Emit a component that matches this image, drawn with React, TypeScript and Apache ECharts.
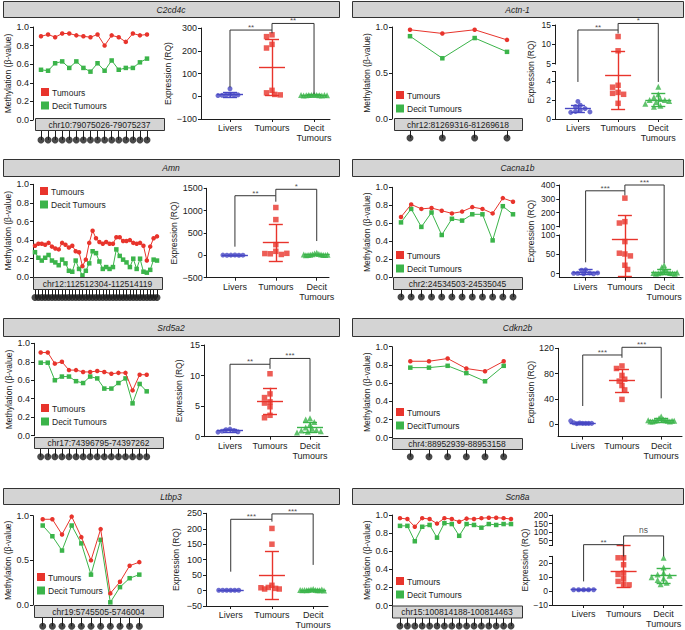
import React, { useEffect, useRef } from "react";
import * as echarts from "echarts";

const FONT = "'Liberation Sans', Arial, Helvetica, sans-serif";
const RED = "#e8342c";
const GREEN = "#3bb44a";
const BLUE = "#4848c4";
const INK = "#1c1c1c";
const BOXFILL = "#d4d4d4";

const groupLabels = ["Livers", "Tumours", "Decit\nTumours"];

// ---------- C2cd4c
const c2cd4cMethTumours = [0.9, 0.92, 0.89, 0.93, 0.93, 0.91, 0.9, 0.89, 0.92, 0.8, 0.91, 0.89, 0.84, 0.93, 0.91, 0.92];
const c2cd4cMethDecit = [0.54, 0.53, 0.61, 0.63, 0.56, 0.63, 0.56, 0.52, 0.61, 0.53, 0.64, 0.54, 0.56, 0.56, 0.62, 0.66];
const c2cd4cLivers = [33, 8, 5, 5, 4, 6, 3];
const c2cd4cTumours = [270, 262, 228, 212, 26, 15, 8, 6];
const c2cd4cDecit = [8, 6, 5, 5, 4, 4, 3, 3, 5, 6, 4];
const c2cd4cMeans = [7, 127, 5];
const c2cd4cSds = [10, 122, 2];
const c2cd4cTicks = [-100, 0, 100, 200, 300];
const c2cd4cBrackets = [[0, 1, 291, 39, 277, "**"], [1, 2, 320, 291, 10, "**"]];

// ---------- Actn-1
const actn1MethTumours = [0.97, 0.93, 0.97, 0.86];
const actn1MethDecit = [0.9, 0.66, 0.88, 0.73];
const actn1Livers = [1.85, 1.45, 1.3, 1.1, 0.95, 0.8, 0.7, 0.75];
const actn1Tumours = [12, 8.3, 3.55, 3.35, 2.8, 2.7, 2.6, 1.65];
const actn1Decit = [3.4, 2.6, 2.3, 2.1, 2.0, 2.0, 1.9, 1.8, 1.6, 1.4, 1.3];
const actn1Means = [1.1, 4.6, 2.0];
const actn1Sds = [0.4, 3.6, 0.7];
const actn1LowerTicks = [0, 2, 4];
const actn1UpperTicks = [5, 10, 15];
const actn1Brackets = [[0, 1, 13.7, 3.9, 12.8, "**"], [1, 2, 15.4, 13.7, 3.9, "*"]];

// ---------- Amn
const amnMethTumours = [0.34, 0.36, 0.36, 0.35, 0.37, 0.33, 0.31, 0.3, 0.37, 0.35, 0.32, 0.34, 0.28, 0.27, 0.12, 0.19, 0.37, 0.5, 0.42, 0.38, 0.36, 0.38, 0.36, 0.36, 0.43, 0.43, 0.39, 0.39, 0.4, 0.37, 0.36, 0.37, 0.34, 0.18, 0.33, 0.42, 0.44];
const amnMethDecit = [0.27, 0.21, 0.18, 0.21, 0.24, 0.18, 0.16, 0.13, 0.19, 0.15, 0.07, 0.06, 0.18, 0.09, 0.02, 0.07, 0.15, 0.28, 0.26, 0.17, 0.09, 0.11, 0.09, 0.11, 0.3, 0.23, 0.19, 0.16, 0.11, 0.2, 0.09, 0.2, 0.06, 0.05, 0.08, 0.19, 0.18];
const amnLivers = [8, 5, 3, 2, 4, 6];
const amnTumours = [1070, 800, 240, 90, 35, 20, 40, 45];
const amnDecit = [60, 40, 30, 25, 20, 15, 10, 10, 8, 5, 12, 18];
const amnMeans = [5, 283, 20];
const amnSds = [3, 410, 15];
const amnTicks = [-500, 0, 500, 1000, 1500];
const amnBrackets = [[0, 1, 1334, 194, 1200, "**"], [1, 2, 1478, 1334, 320, "*"]];

// ---------- Cacna1b
const cacna1bMethTumours = [0.67, 0.81, 0.76, 0.77, 0.74, 0.71, 0.73, 0.78, 0.76, 0.71, 0.88, 0.84];
const cacna1bMethDecit = [0.61, 0.76, 0.56, 0.72, 0.47, 0.65, 0.63, 0.7, 0.7, 0.41, 0.79, 0.7];
const cacna1bLivers = [10, 9, 2, 1, 0, 0, 1, 2];
const cacna1bTumours = [305, 135, 125, 83, 51, 53, 46, 22, 11];
const cacna1bDecit = [22, 17, 10, 6, 4, 3, 2, 1, 1, 0, 0, 2, 3];
const cacna1bMeans = [5, 88, 5];
const cacna1bSds = [6, 95, 7];
const cacna1bLowerTicks = [0, 50, 100];
const cacna1bUpperTicks = [100, 200, 300, 400];
const cacna1bBrackets = [[0, 1, 358, 29.5, 325, "***"], [1, 2, 400, 358, 27, "***"]];

// ---------- Srd5a2
const srd5a2MethTumours = [0.9, 0.9, 0.78, 0.8, 0.71, 0.71, 0.69, 0.69, 0.7, 0.69, 0.67, 0.68, 0.68, 0.49, 0.66, 0.66];
const srd5a2MethDecit = [0.79, 0.79, 0.6, 0.64, 0.64, 0.59, 0.57, 0.64, 0.62, 0.51, 0.51, 0.57, 0.62, 0.35, 0.56, 0.48];
const srd5a2Livers = [1.25, 1.15, 1.0, 0.9, 0.8, 0.75];
const srd5a2Tumours = [10.3, 7.0, 6.4, 5.7, 5.5, 4.9, 3.5, 3.1];
const srd5a2Decit = [3.0, 2.8, 2.4, 2.0, 1.5, 1.3, 1.1, 1.0, 0.9, 0.8, 0.7];
const srd5a2Means = [1.0, 5.8, 1.6];
const srd5a2Sds = [0.2, 2.2, 0.8];
const srd5a2Ticks = [0, 5, 10, 15];
const srd5a2Brackets = [[0, 1, 11.85, 1.9, 11.1, "**"], [1, 2, 12.8, 11.85, 4.1, "***"]];

// ---------- Cdkn2b
const cdkn2bMethTumours = [0.84, 0.84, 0.87, 0.76, 0.73, 0.84];
const cdkn2bMethDecit = [0.77, 0.77, 0.79, 0.71, 0.62, 0.79];
const cdkn2bLivers = [1, 1.5, 1, 0.5, 1, 2, 1, 5];
const cdkn2bTumours = [92, 88, 77, 71, 68, 61, 54, 39];
const cdkn2bDecit = [12, 9, 7, 6, 6, 5, 5, 4, 4, 4, 5, 6, 5];
const cdkn2bMeans = [1.5, 69, 6];
const cdkn2bSds = [1.3, 18, 2.5];
const cdkn2bTicks = [0, 40, 80, 120];
const cdkn2bBrackets = [[0, 1, 109.4, 28.5, 105, "***"], [1, 2, 121.6, 109.4, 40.7, "***"]];

// ---------- Ltbp3
const ltbp3MethTumours = [0.96, 0.96, 0.79, 0.99, 0.76, 0.5, 0.85, 0.13, 0.26, 0.44, 0.48];
const ltbp3MethDecit = [0.89, 0.77, 0.61, 0.89, 0.69, 0.34, 0.73, 0.03, 0.2, 0.3, 0.34];
const ltbp3Livers = [1, 1, 1, 1, 1, 1];
const ltbp3Tumours = [201, 150, 17, 10, 7, 5, 5, 9];
const ltbp3Decit = [5, 3, 2, 2, 1, 1, 1, 2, 3, 1, 0.5, 2];
const ltbp3Means = [1, 50, 2];
const ltbp3Sds = [0.5, 78, 1.2];
const ltbp3Ticks = [-50, 0, 50, 100, 150, 200, 250];
const ltbp3Brackets = [[0, 1, 230.6, 61, 223, "***"], [1, 2, 248, 230.6, 83, "***"]];

// ---------- Scn8a
const scn8aMethTumours = [0.965, 0.955, 0.87, 0.965, 0.955, 0.905, 0.965, 0.955, 0.925, 0.96, 0.955, 0.965, 0.97, 0.97, 0.965, 0.955];
const scn8aMethDecit = [0.88, 0.88, 0.71, 0.87, 0.89, 0.75, 0.91, 0.9, 0.77, 0.9, 0.89, 0.86, 0.9, 0.89, 0.9, 0.9];
const scn8aLivers = [1, 1, 1, 1, 1];
const scn8aTumours = [24, 24, 19, 13, 12, 9, 7, 5, 4.5];
const scn8aDecit = [24, 17, 13, 12, 11, 10, 9, 8, 6, 5];
const scn8aMeans = [1, 14.5, 11.2];
const scn8aSds = [0.3, 11.5, 5.5];
const scn8aLowerTicks = [-10, 0, 10, 20];
const scn8aUpperTicks = [50, 100, 150, 200];
const scn8aBrackets = [[0, 1, 27, 7, 25, "**"], [1, 2, 78, 27, 25, "ns"]];

const LEG = ["Tumours", "Decit Tumours"];

const panels: any[] = [
  {
    title: "C2cd4c", header: [3, 1, 336, 16], region: "chr10:79075026-79075237", box: [35, 118, 129, 12], dotY: 140,
    legend: [41, 88], legendNames: LEG,
    meth: { axisX: 33, top: 27, bottom: 120, x0: 41, x1: 147, step: 0.2, nameGap: 21, red: c2cd4cMethTumours, green: c2cd4cMethDecit },
    expr: { left: 201, right: 330, top: 28, bottom: 119, xMin: -0.69, xMax: 2.38, yMin: -100, yMax: 300, ticks: c2cd4cTicks, nameGap: 23,
      groups: [c2cd4cLivers, c2cd4cTumours, c2cd4cDecit], means: c2cd4cMeans, sds: c2cd4cSds, brackets: c2cd4cBrackets },
  },
  {
    title: "Actn-1", header: [352, 1, 331, 16], region: "chr12:81269316-81269618", box: [394, 118, 128, 12], dotY: 138,
    legend: [396, 91], legendNames: LEG,
    meth: { axisX: 392, top: 27, bottom: 119, x0: 410, x1: 507, step: 0.5, nameGap: 21, red: actn1MethTumours, green: actn1MethDecit },
    expr: { left: 555, right: 682, top: 25, bottom: 119, xMin: -0.57, xMax: 2.59,
      broken: { lMin: 0, lMax: 5, uMin: 5, uMax: 15, yLowTop: 71.5, yUpBottom: 63.5 }, lowerTicks: actn1LowerTicks, upperTicks: actn1UpperTicks, nameGap: 20,
      groups: [actn1Livers, actn1Tumours, actn1Decit], means: actn1Means, sds: actn1Sds, brackets: actn1Brackets },
  },
  {
    title: "Amn", header: [3, 159, 336, 17], region: "chr12:112512304-112514119", box: [33, 277, 129, 12], dotY: 297.5,
    legend: [40, 187], legendNames: LEG,
    meth: { axisX: 33, top: 184.3, bottom: 277.3, x0: 35, x1: 157, step: 0.2, nameGap: 21, red: amnMethTumours, green: amnMethDecit },
    expr: { left: 206.7, right: 329, top: 188.3, bottom: 277.7, xMin: -0.69, xMax: 2.3, yMin: -500, yMax: 1500, ticks: amnTicks, nameGap: 26,
      groups: [amnLivers, amnTumours, amnDecit], means: amnMeans, sds: amnSds, brackets: amnBrackets },
  },
  {
    title: "Cacna1b", header: [352, 159, 331, 17], region: "chr2:24534503-24535045", box: [393, 277, 129, 12], dotY: 297,
    legend: [396, 251], legendNames: LEG,
    meth: { axisX: 392, top: 187.3, bottom: 277.3, x0: 401, x1: 513, step: 0.2, nameGap: 21, red: cacna1bMethTumours, green: cacna1bMethDecit },
    expr: { left: 559.3, right: 683, top: 185, bottom: 277.6, xMin: -0.67, xMax: 2.48,
      broken: { lMin: -10, lMax: 100, uMin: 100, uMax: 400, yLowTop: 235, yUpBottom: 226.5 }, lowerTicks: cacna1bLowerTicks, upperTicks: cacna1bUpperTicks, nameGap: 24,
      groups: [cacna1bLivers, cacna1bTumours, cacna1bDecit], means: cacna1bMeans, sds: cacna1bSds, brackets: cacna1bBrackets },
  },
  {
    title: "Srd5a2", header: [3, 318, 336, 18], region: "chr17:74396795-74397262", box: [34, 437, 129, 11], dotY: 456.7,
    legend: [41, 404], legendNames: LEG,
    meth: { axisX: 34, top: 343.3, bottom: 435.7, x0: 40.7, x1: 146.7, step: 0.2, nameGap: 21, red: srd5a2MethTumours, green: srd5a2MethDecit },
    expr: { left: 204, right: 328, top: 345, bottom: 436.7, xMin: -0.65, xMax: 2.45, yMin: 0, yMax: 15, ticks: srd5a2Ticks, nameGap: 21,
      groups: [srd5a2Livers, srd5a2Tumours, srd5a2Decit], means: srd5a2Means, sds: srd5a2Sds, brackets: srd5a2Brackets },
  },
  {
    title: "Cdkn2b", header: [352, 318, 331, 18], region: "chr4:88952939-88953158", box: [392, 438, 130, 11], dotY: 456.7,
    legend: [396, 408], legendNames: ["Tumours", "DecitTumours"],
    meth: { axisX: 392, top: 346.7, bottom: 437.7, x0: 410.3, x1: 503.7, step: 0.2, nameGap: 21, red: cdkn2bMethTumours, green: cdkn2bMethDecit },
    expr: { left: 558, right: 682, top: 348.3, bottom: 436.6, xMin: -0.63, xMax: 2.53, yMin: -20, yMax: 120, ticks: cdkn2bTicks, nameGap: 23,
      groups: [cdkn2bLivers, cdkn2bTumours, cdkn2bDecit], means: cdkn2bMeans, sds: cdkn2bSds, brackets: cdkn2bBrackets },
  },
  {
    title: "Ltbp3", header: [3, 488, 336, 16], region: "chr19:5745505-5746004", box: [34, 605, 129, 12], dotY: 626.3,
    legend: [37, 573], legendNames: LEG,
    meth: { axisX: 33, top: 515.7, bottom: 605, x0: 42.7, x1: 139.3, step: 0.5, nameGap: 21, red: ltbp3MethTumours, green: ltbp3MethDecit },
    expr: { left: 206, right: 328, top: 513.3, bottom: 606, xMin: -0.6, xMax: 2.36, yMin: -50, yMax: 250, ticks: ltbp3Ticks, nameGap: 26,
      groups: [ltbp3Livers, ltbp3Tumours, ltbp3Decit], means: ltbp3Means, sds: ltbp3Sds, brackets: ltbp3Brackets },
  },
  {
    title: "Scn8a", header: [352, 488, 331, 16], region: "chr15:100814188-100814463", box: [392, 605.5, 130, 12], dotY: 626,
    legend: [396, 577], legendNames: LEG,
    meth: { axisX: 392, top: 515, bottom: 605.5, x0: 400, x1: 511, step: 0.2, nameGap: 21, red: scn8aMethTumours, green: scn8aMethDecit },
    expr: { left: 552, right: 682, top: 515, bottom: 605, xMin: -0.79, xMax: 2.46,
      broken: { lMin: -10, lMax: 25, uMin: 25, uMax: 200, yLowTop: 556.4, yUpBottom: 545 }, lowerTicks: scn8aLowerTicks, upperTicks: scn8aUpperTicks, nameGap: 22,
      groups: [scn8aLivers, scn8aTumours, scn8aDecit], means: scn8aMeans, sds: scn8aSds, brackets: scn8aBrackets },
  },
];

const fmtNum = (v: number) => String(v).replace("-", "\u2212");

// simple beeswarm in pixel space, squeezed into a limited horizontal band
function swarm(ys: number[], size: number, maxHalf: number): number[] {
  const placed: { x: number; y: number }[] = [];
  const out: number[] = [];
  const step = size * 0.5;
  const dist = size * 0.85;
  ys.forEach((y) => {
    let x = 0;
    for (let k = 0; k < 60; k++) {
      const cands = k === 0 ? [0] : k % 2 ? [k * step, -k * step] : [-k * step, k * step];
      const ok = cands.find((c) => placed.every((p) => Math.hypot(p.x - c, p.y - y) >= dist));
      if (ok !== undefined) { x = ok; break; }
    }
    placed.push({ x, y });
    out.push(x);
  });
  const widest = Math.max(1e-6, ...out.map((v) => Math.abs(v)));
  const f = Math.min(1, maxHalf / widest);
  return out.map((v) => v * f);
}

function buildOption() {
  const grid: any[] = [];
  const xAxis: any[] = [];
  const yAxis: any[] = [];
  const series: any[] = [];
  const graphic: any[] = [];
  const txt = (size: number, extra: any = {}) => ({ fontFamily: FONT, fontSize: size, color: INK, ...extra });

  panels.forEach((p) => {
    // header bar
    const [hx, hy, hw, hh] = p.header;
    graphic.push({ type: "rect", z: 10, shape: { x: hx + 0.5, y: hy + 0.5, width: hw, height: hh }, style: { fill: BOXFILL, stroke: "#333", lineWidth: 1 } });
    graphic.push({ type: "text", z: 11, x: hx + hw / 2, y: hy + hh / 2 + 0.5, style: { text: p.title, fontFamily: FONT, fontSize: 8.5, fontStyle: "italic", fill: INK, align: "center", verticalAlign: "middle" } });

    // ---- methylation chart
    const m = p.meth;
    const n = m.red.length;
    let gi = grid.length;
    grid.push({ left: m.x0, top: m.top, width: m.x1 - m.x0, height: m.bottom - m.top, containLabel: false, outerBoundsMode: "none" });
    let xi = xAxis.length;
    xAxis.push({ type: "value", gridIndex: gi, min: 0, max: n - 1, show: false });
    let yi = yAxis.length;
    yAxis.push({
      type: "value", gridIndex: gi, min: 0, max: 1, interval: m.step, offset: m.x0 - m.axisX,
      axisLine: { show: true, onZero: false, lineStyle: { color: INK, width: 1 } },
      axisTick: { show: true, length: 3, lineStyle: { color: INK } },
      axisLabel: { ...txt(9), margin: 4, formatter: (v: number) => v.toFixed(1) },
      splitLine: { show: false },
      name: "Methylation (\u03b2-value)", nameLocation: "middle", nameGap: m.nameGap, nameRotate: 90, nameTextStyle: txt(8.5),
    });
    series.push({ type: "line", xAxisIndex: xi, yAxisIndex: yi, data: m.red.map((v: number, i: number) => [i, v]), symbol: "circle", symbolSize: 4.5, itemStyle: { color: RED }, lineStyle: { color: RED, width: 1 }, z: 4, silent: true });
    series.push({ type: "line", xAxisIndex: xi, yAxisIndex: yi, data: m.green.map((v: number, i: number) => [i, v]), symbol: "rect", symbolSize: 4.5, itemStyle: { color: GREEN }, lineStyle: { color: GREEN, width: 1 }, z: 3, silent: true });

    // region box
    const [bx, by, bw, bh] = p.box;
    graphic.push({ type: "rect", z: 10, shape: { x: bx + 0.5, y: by + 0.5, width: bw, height: bh }, style: { fill: BOXFILL, stroke: "#333", lineWidth: 1 } });
    graphic.push({ type: "text", z: 11, x: bx + bw / 2, y: by + bh / 2 + 0.5, style: { text: p.region, fontFamily: FONT, fontSize: 8.5, fill: INK, align: "center", verticalAlign: "middle" } });

    // lollipops
    gi = grid.length;
    const stemTop = by + bh + 0.5;
    grid.push({ left: m.x0, top: stemTop, width: m.x1 - m.x0, height: p.dotY - stemTop, containLabel: false, outerBoundsMode: "none" });
    xi = xAxis.length;
    xAxis.push({ type: "value", gridIndex: gi, min: 0, max: n - 1, show: false });
    yi = yAxis.length;
    yAxis.push({ type: "value", gridIndex: gi, min: 0, max: 1, show: false });
    series.push({ type: "lines", coordinateSystem: "cartesian2d", xAxisIndex: xi, yAxisIndex: yi, clip: false, silent: true,
      lineStyle: { color: INK, width: 1, opacity: 1 }, data: m.red.map((_: number, i: number) => ({ coords: [[i, 0], [i, 1]] })) });
    series.push({ type: "scatter", xAxisIndex: xi, yAxisIndex: yi, clip: false, silent: true, symbol: "circle", symbolSize: 7,
      itemStyle: { color: INK }, data: m.red.map((_: number, i: number) => [i, 0]) });

    // legend
    const [lx, ly] = p.legend;
    [RED, GREEN].forEach((c, k) => {
      graphic.push({ type: "rect", z: 10, shape: { x: lx, y: ly + k * 13.5, width: 8, height: 8 }, style: { fill: c } });
      graphic.push({ type: "text", z: 10, x: lx + 11, y: ly + k * 13.5 + 4.5, style: { text: p.legendNames[k], fontFamily: FONT, fontSize: 8.5, fill: INK, align: "left", verticalAlign: "middle" } });
    });

    // ---- expression chart
    const e = p.expr;
    const H = e.bottom - e.top;
    let tf: (v: number, seg?: string) => number = (v) => v;
    let yMin = e.yMin, yMax = e.yMax;
    let tickVals: number[] = [];
    let labelOf: (v: number) => string = fmtNum;
    if (e.broken) {
      const b = e.broken;
      const hL = e.bottom - b.yLowTop, base = e.bottom - b.yUpBottom, hU = b.yUpBottom - e.top;
      tf = (v, seg) => {
        const lower = seg ? seg === "l" : v <= b.lMax;
        return lower ? ((v - b.lMin) / (b.lMax - b.lMin)) * hL : base + ((v - b.uMin) / (b.uMax - b.uMin)) * hU;
      };
      yMin = 0; yMax = H;
      const entries: [number, string][] = [];
      e.lowerTicks.forEach((t: number) => entries.push([tf(t, "l"), fmtNum(t)]));
      e.upperTicks.forEach((t: number) => entries.push([tf(t, "u"), fmtNum(t)]));
      const lt = tf(b.lMax, "l"), ub = tf(b.uMin, "u");
      if (!entries.some((en) => Math.abs(en[0] - lt) < 0.01)) entries.push([lt, ""]);
      if (!entries.some((en) => Math.abs(en[0] - ub) < 0.01)) entries.push([ub, ""]);
      tickVals = entries.map((en) => en[0]);
      const map = new Map(entries.map((en) => [Math.round(en[0] * 1000), en[1]]));
      labelOf = (v) => map.get(Math.round(v * 1000)) ?? "";
      // gap in the axis line
      graphic.push({ type: "rect", z: 12, shape: { x: e.left - 2, y: b.yUpBottom + 1, width: 4, height: b.yLowTop - b.yUpBottom - 1.5 }, style: { fill: "#fff" } });
    } else {
      tickVals = e.ticks;
    }
    const yPx = (v: number) => e.bottom - ((tf(v) - yMin) / (yMax - yMin)) * H;
    const pxu = (e.right - e.left) / (e.xMax - e.xMin);

    gi = grid.length;
    grid.push({ left: e.left, top: e.top, width: e.right - e.left, height: H, containLabel: false, outerBoundsMode: "none" });
    xi = xAxis.length;
    xAxis.push({
      type: "value", gridIndex: gi, min: e.xMin, max: e.xMax,
      axisLine: { show: true, onZero: false, lineStyle: { color: INK, width: 1 } },
      axisTick: { show: true, customValues: [0, 1, 2], length: 3, lineStyle: { color: INK } },
      axisLabel: { ...txt(9), customValues: [0, 1, 2], margin: 4, lineHeight: 10, formatter: (v: number) => groupLabels[Math.round(v)] ?? "" },
      splitLine: { show: false },
    });
    yi = yAxis.length;
    yAxis.push({
      type: "value", gridIndex: gi, min: yMin, max: yMax,
      axisLine: { show: true, onZero: false, lineStyle: { color: INK, width: 1 } },
      axisTick: { show: true, customValues: tickVals, length: 3, lineStyle: { color: INK } },
      axisLabel: { ...txt(e.broken ? 8.5 : 9), customValues: tickVals, margin: 4, formatter: (v: number) => labelOf(v) },
      splitLine: { show: false },
      name: "Expression (RQ)", nameLocation: "middle", nameGap: e.nameGap, nameRotate: 90, nameTextStyle: txt(8.5),
    });

    const colors = [BLUE, RED, GREEN];
    const symbols = ["circle", "rect", "triangle"];
    const sizes = [5, 5.5, 6];
    const halves = [12, 11, 13];
    e.groups.forEach((vals: number[], g: number) => {
      const offs = swarm(vals.map(yPx), sizes[g], halves[g]);
      series.push({ type: "scatter", xAxisIndex: xi, yAxisIndex: yi, clip: false, silent: true, symbol: symbols[g], symbolSize: sizes[g],
        itemStyle: { color: colors[g] }, z: 3, data: vals.map((v, i) => [g + offs[i] / pxu, tf(v)]) });
      const mu = e.means[g], sd = e.sds[g];
      const hm = 13 / pxu, hc = 7 / pxu;
      series.push({ type: "lines", coordinateSystem: "cartesian2d", xAxisIndex: xi, yAxisIndex: yi, clip: false, silent: true, z: 4,
        lineStyle: { color: colors[g], width: 1.4, opacity: 1 },
        data: [
          { coords: [[g - hm, tf(mu)], [g + hm, tf(mu)]] },
          { coords: [[g, tf(mu - sd)], [g, tf(mu + sd)]] },
          { coords: [[g - hc, tf(mu + sd)], [g + hc, tf(mu + sd)]] },
          { coords: [[g - hc, tf(mu - sd)], [g + hc, tf(mu - sd)]] },
        ] });
    });

    // significance brackets
    e.brackets.forEach((br: any[]) => {
      const [a, b2, level, dropA, dropB, label] = br;
      series.push({ type: "lines", coordinateSystem: "cartesian2d", xAxisIndex: xi, yAxisIndex: yi, clip: false, silent: true, polyline: true, z: 5,
        lineStyle: { color: "#333", width: 1, opacity: 1 },
        data: [{ coords: [[a, tf(dropA)], [a, tf(level)], [b2, tf(level)], [b2, tf(dropB)]] }] });
      const isStar = String(label).includes("*");
      series.push({ type: "scatter", xAxisIndex: xi, yAxisIndex: yi, clip: false, silent: true, symbol: "rect", symbolSize: 1, z: 5,
        itemStyle: { color: "rgba(0,0,0,0)" },
        label: { show: true, position: "top", distance: 1, offset: [0, isStar ? 3 : 0], formatter: label, ...txt(isStar ? 8 : 8.5) },
        data: [[(a + b2) / 2, tf(level)]] });
    });
  });

  return { animation: false, backgroundColor: "#fff", grid, xAxis, yAxis, series, graphic: { elements: graphic } };
}

export default function App() {
  const ref = useRef<HTMLDivElement>(null);
  useEffect(() => {
    document.body.style.margin = "0";
    const chart = echarts.init(ref.current!, null, { renderer: "svg" });
    chart.setOption(buildOption() as any);
    return () => chart.dispose();
  }, []);
  return <div ref={ref} style={{ width: 685, height: 630 }} />;
}
